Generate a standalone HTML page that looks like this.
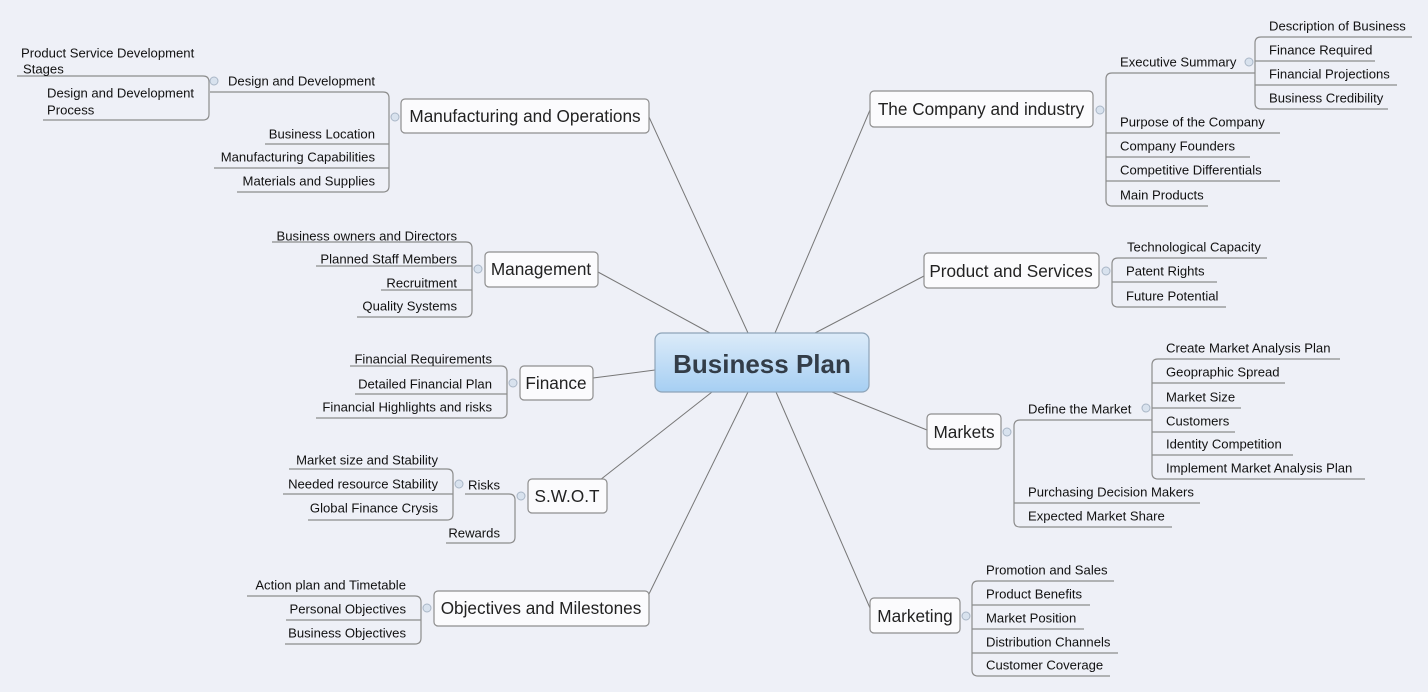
<!DOCTYPE html>
<html><head><meta charset="utf-8"><style>
html,body{margin:0;padding:0;background:#eef0f7;}
svg{display:block}
text{font-family:"Liberation Sans","DejaVu Sans",sans-serif;fill:#111;}
.l{font-size:13.1px;dominant-baseline:central}
.e{text-anchor:end}
.n{font-size:17.2px;dominant-baseline:central;text-anchor:middle;fill:#222}
.u{stroke:#8c8c8c;stroke-width:1.2;fill:none}
.c{stroke:#777;stroke-width:1;fill:none}
.b{fill:#fbfbfd;stroke:#8e8e8e;stroke-width:1.2}
.x{fill:#d8e2ee;stroke:#a9b6c6;stroke-width:1}
</style></head><body>
<svg width="1428" height="692" viewBox="0 0 1428 692">
<defs><linearGradient id="g" x1="0" y1="0" x2="0" y2="1"><stop offset="0" stop-color="#dcebf9"/><stop offset="1" stop-color="#a6cff3"/></linearGradient></defs>
<g class="c">
<path d="M649 117 L748 333"/><path d="M598 272 L710 333"/><path d="M593 378 L655 370"/>
<path d="M600 480 L712 392"/><path d="M648 596 L748 392"/>
<path d="M870 110 L775 333"/><path d="M924 276 L815 333"/><path d="M927 430 L832 392"/><path d="M870 608 L776 392"/>
</g>
<g class="u">
<path d="M210 92 H383 Q389 92 389 98 V186 Q389 192 383 192 H237"/>
<path d="M265 144 H389"/><path d="M214 168 H389"/>
<path d="M17 76 H203 Q209 76 209 82 V114 Q209 120 203 120 H43"/>
<path d="M272 242 H466 Q472 242 472 248 V311 Q472 317 466 317 H357"/>
<path d="M316 266 H472"/><path d="M381 290 H472"/>
<path d="M350 366 H501 Q507 366 507 372 V412 Q507 418 501 418 H316"/>
<path d="M355 394 H507"/>
<path d="M465 494 H509 Q515 494 515 500 V537 Q515 543 509 543 H446"/>
<path d="M289 469 H447 Q453 469 453 475 V514 Q453 520 447 520 H308"/>
<path d="M283 494 H453"/>
<path d="M247 596 H415 Q421 596 421 602 V638 Q421 644 415 644 H285"/>
<path d="M286 620 H421"/>
<path d="M1255 73 H1112 Q1106 73 1106 79 V200 Q1106 206 1112 206 H1208"/>
<path d="M1106 133 H1280"/><path d="M1106 157 H1250"/><path d="M1106 181 H1280"/>
<path d="M1412 37 H1261 Q1255 37 1255 43 V103 Q1255 109 1261 109 H1388"/>
<path d="M1255 61 H1375"/><path d="M1255 85 H1397"/>
<path d="M1267 258 H1118 Q1112 258 1112 264 V301 Q1112 307 1118 307 H1226"/>
<path d="M1112 282 H1217"/>
<path d="M1152 420 H1020 Q1014 420 1014 426 V521 Q1014 527 1020 527 H1172"/>
<path d="M1014 503 H1200"/>
<path d="M1340 359 H1158 Q1152 359 1152 365 V473 Q1152 479 1158 479 H1365"/>
<path d="M1152 383 H1285"/><path d="M1152 408 H1241"/><path d="M1152 432 H1235"/><path d="M1152 455 H1293"/>
<path d="M1114 581 H978 Q972 581 972 587 V670 Q972 676 978 676 H1110"/>
<path d="M972 605 H1090"/><path d="M972 629 H1084"/><path d="M972 653 H1118"/>
</g>
<g class="x">
<circle cx="395" cy="117" r="4"/><circle cx="214" cy="81" r="4"/><circle cx="478" cy="269" r="4"/>
<circle cx="513" cy="383" r="4"/><circle cx="521" cy="496" r="4"/><circle cx="459" cy="484" r="4"/>
<circle cx="427" cy="608" r="4"/><circle cx="1100" cy="110" r="4"/><circle cx="1249" cy="62" r="4"/>
<circle cx="1106" cy="271" r="4"/><circle cx="1007" cy="432" r="4"/><circle cx="1146" cy="408" r="4"/>
<circle cx="966" cy="616" r="4"/>
</g>
<rect x="655" y="333" width="214" height="59" rx="7" fill="url(#g)" stroke="#8ea4b8" stroke-width="1.2"/>
<text x="762" y="364" style="font-size:26px;font-weight:bold;fill:#333d48;dominant-baseline:central;text-anchor:middle">Business Plan</text>
<rect class="b" x="401" y="99" width="248" height="34" rx="4"/><text class="n" x="525" y="116">Manufacturing and Operations</text>
<rect class="b" x="485" y="252" width="113" height="35" rx="4"/><text class="n" x="541" y="269">Management</text>
<rect class="b" x="520" y="366" width="73" height="34" rx="4"/><text class="n" x="556" y="383">Finance</text>
<rect class="b" x="528" y="479" width="79" height="34" rx="4"/><text class="n" x="567" y="496">S.W.O.T</text>
<rect class="b" x="434" y="591" width="215" height="35" rx="4"/><text class="n" x="541" y="608">Objectives and Milestones</text>
<rect class="b" x="870" y="91" width="223" height="36" rx="4"/><text class="n" x="981" y="109">The Company and industry</text>
<rect class="b" x="924" y="253" width="175" height="35" rx="4"/><text class="n" x="1011" y="271">Product and Services</text>
<rect class="b" x="927" y="414" width="74" height="35" rx="4"/><text class="n" x="964" y="432">Markets</text>
<rect class="b" x="870" y="598" width="90" height="35" rx="4"/><text class="n" x="915" y="616">Marketing</text>
<text class="l e" x="375" y="81">Design and Development</text>
<text class="l e" x="375" y="134">Business Location</text>
<text class="l e" x="375" y="157">Manufacturing Capabilities</text>
<text class="l e" x="375" y="181">Materials and Supplies</text>
<text class="l e" x="457" y="236">Business owners and Directors</text>
<text class="l e" x="457" y="259">Planned Staff Members</text>
<text class="l e" x="457" y="283">Recruitment</text>
<text class="l e" x="457" y="306">Quality Systems</text>
<text class="l e" x="492" y="359">Financial Requirements</text>
<text class="l e" x="492" y="384">Detailed Financial Plan</text>
<text class="l e" x="492" y="407">Financial Highlights and risks</text>
<text class="l e" x="500" y="485">Risks</text>
<text class="l e" x="500" y="533">Rewards</text>
<text class="l e" x="438" y="460">Market size and Stability</text>
<text class="l e" x="438" y="484">Needed resource Stability</text>
<text class="l e" x="438" y="508">Global Finance Crysis</text>
<text class="l e" x="406" y="585">Action plan and Timetable</text>
<text class="l e" x="406" y="609">Personal Objectives</text>
<text class="l e" x="406" y="633">Business Objectives</text>
<text class="l" x="21" y="53">Product Service Development</text>
<text class="l" x="23" y="69">Stages</text>
<text class="l" x="47" y="93">Design and Development</text>
<text class="l" x="47" y="110">Process</text>
<text class="l" x="1120" y="62">Executive Summary</text>
<text class="l" x="1120" y="122">Purpose of the Company</text>
<text class="l" x="1120" y="146">Company Founders</text>
<text class="l" x="1120" y="170">Competitive Differentials</text>
<text class="l" x="1120" y="195">Main Products</text>
<text class="l" x="1269" y="26">Description of Business</text>
<text class="l" x="1269" y="50">Finance Required</text>
<text class="l" x="1269" y="74">Financial Projections</text>
<text class="l" x="1269" y="98">Business Credibility</text>
<text class="l" x="1127" y="247">Technological Capacity</text>
<text class="l" x="1126" y="271">Patent Rights</text>
<text class="l" x="1126" y="296">Future Potential</text>
<text class="l" x="1028" y="409">Define the Market</text>
<text class="l" x="1028" y="492">Purchasing Decision Makers</text>
<text class="l" x="1028" y="516">Expected Market Share</text>
<text class="l" x="1166" y="348">Create Market Analysis Plan</text>
<text class="l" x="1166" y="372">Geopraphic Spread</text>
<text class="l" x="1166" y="397">Market Size</text>
<text class="l" x="1166" y="421">Customers</text>
<text class="l" x="1166" y="444">Identity Competition</text>
<text class="l" x="1166" y="468">Implement Market Analysis Plan</text>
<text class="l" x="986" y="570">Promotion and Sales</text>
<text class="l" x="986" y="594">Product Benefits</text>
<text class="l" x="986" y="618">Market Position</text>
<text class="l" x="986" y="642">Distribution Channels</text>
<text class="l" x="986" y="665">Customer Coverage</text>
</svg>
</body></html>
